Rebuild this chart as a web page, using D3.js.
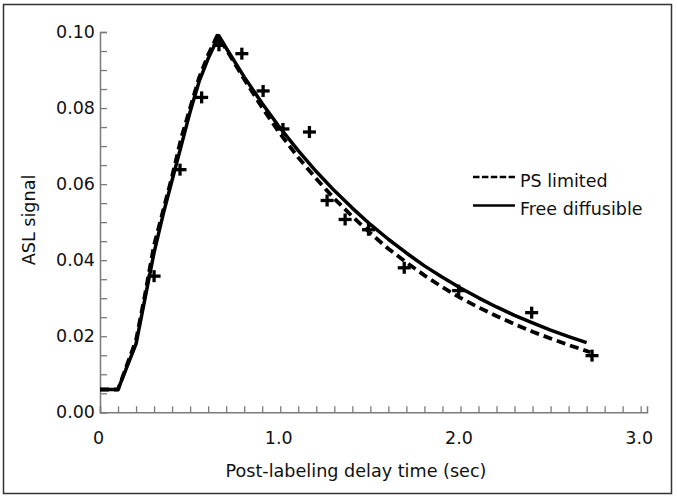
<!DOCTYPE html>
<html>
<head>
<meta charset="utf-8">
<script src="https://cdn.jsdelivr.net/npm/d3@7"></script>
<style>
  html, body { margin: 0; padding: 0; background: #fff; }
  svg { display: block; }
  text { font-family: "DejaVu Sans", sans-serif; fill: #111; }
</style>
</head>
<body>
<svg id="chart" width="677" height="498"></svg>
<script>
// ---- data ----
const freeT = [0, 0.1, 0.2, 0.25, 0.3, 0.35, 0.4, 0.45, 0.5, 0.55, 0.6, 0.66, 0.7, 0.8, 0.9, 1.0, 1.1, 1.2, 1.3, 1.4, 1.5, 1.6, 1.7, 1.8, 1.9, 2.0, 2.1, 2.2, 2.3, 2.4, 2.5, 2.6, 2.7];
const freeV = [0.006, 0.006, 0.018, 0.030, 0.042, 0.052, 0.061, 0.070, 0.079, 0.087, 0.093, 0.099, 0.0958, 0.0882, 0.0812, 0.0747, 0.0688, 0.0633, 0.0583, 0.0537, 0.0494, 0.0455, 0.0419, 0.0385, 0.0355, 0.0327, 0.0301, 0.0277, 0.0255, 0.0235, 0.0216, 0.0199, 0.0183];

const psT = [0, 0.1, 0.2, 0.25, 0.3, 0.35, 0.4, 0.45, 0.5, 0.55, 0.6, 0.65, 0.7, 0.8, 0.9, 1.0, 1.1, 1.2, 1.3, 1.4, 1.5, 1.6, 1.7, 1.8, 1.9, 2.0, 2.1, 2.2, 2.3, 2.4, 2.5, 2.6, 2.72];
const psV = [0.006, 0.006, 0.019, 0.031, 0.044, 0.053, 0.062, 0.072, 0.080, 0.088, 0.094, 0.099, 0.0955, 0.0876, 0.0801, 0.0732, 0.0670, 0.0614, 0.0562, 0.0515, 0.0471, 0.0430, 0.0394, 0.0360, 0.0329, 0.0301, 0.0276, 0.0253, 0.0232, 0.0212, 0.0194, 0.0177, 0.0158];

const measT = [0.30, 0.444, 0.564, 0.66, 0.787, 0.905, 1.015, 1.162, 1.26, 1.36, 1.49, 1.688, 1.99, 2.395, 2.73];
const measV = [0.0358, 0.0638, 0.0828, 0.0965, 0.0943, 0.0845, 0.0745, 0.0737, 0.0557, 0.0507, 0.0480, 0.0380, 0.0320, 0.0262, 0.0149];

const xTickValues = [0, 1, 2, 3];
const xTickLabels = ["0", "1.0", "2.0", "3.0"];
const yTickValues = [0, 0.02, 0.04, 0.06, 0.08, 0.10];
const yTickLabels = ["0.00", "0.02", "0.04", "0.06", "0.08", "0.10"];
const seriesNames = ["PS limited", "Free diffusible"];
const xTitle = "Post-labeling delay time (sec)";
const yTitle = "ASL signal";

// ---- drawing ----
const svg = d3.select("#chart");
const axisColor = "#7a7a7a";
const fontFam = "'DejaVu Sans', sans-serif";

svg.append("rect")
  .attr("x", 3.5).attr("y", 4.5).attr("width", 668).attr("height", 489)
  .attr("fill", "none").attr("stroke", "#333").attr("stroke-width", 1.5);

const x = d3.scaleLinear().domain([0, 3.035]).range([100, 647]);
const y = d3.scaleLinear().domain([0, 0.1]).range([412.3, 32]);

// minor ticks (inside)
const xMinor = d3.range(0, 31).map(i => i / 10);
const yMinor = d3.range(0, 21).map(i => i * 0.005);

const gx = svg.append("g").attr("transform", `translate(0,${y(0)})`)
  .call(d3.axisBottom(x).tickValues(xMinor).tickSize(-6).tickFormat(""));
const gy = svg.append("g").attr("transform", `translate(${x(0)},0)`)
  .call(d3.axisLeft(y).tickValues(yMinor).tickSize(-7).tickFormat(""));
[gx, gy].forEach(g => {
  g.select(".domain").attr("stroke", axisColor).attr("stroke-width", 1.5);
  g.selectAll(".tick line").attr("stroke", axisColor).attr("stroke-width", 1.3);
});

// tick labels
const gxl = svg.append("g").attr("transform", `translate(0,${y(0)})`)
  .call(d3.axisBottom(x).tickValues(xTickValues).tickSize(0).tickPadding(19)
    .tickFormat((d, i) => xTickLabels[i]));
const gyl = svg.append("g").attr("transform", `translate(${x(0)},0)`)
  .call(d3.axisLeft(y).tickValues(yTickValues).tickSize(0).tickPadding(5)
    .tickFormat((d, i) => yTickLabels[i]));
[gxl, gyl].forEach(g => {
  g.select(".domain").remove();
  g.selectAll("text").attr("font-size", 17.5).attr("font-family", fontFam).attr("fill", "#111");
});
gxl.selectAll(".tick").attr("transform", d => `translate(${x(d) - 1.5},0)`);

// titles
svg.append("text").attr("x", 356).attr("y", 477).attr("text-anchor", "middle")
  .attr("font-size", 17.6).text(xTitle);
svg.append("text").attr("transform", "translate(35,220) rotate(-90)")
  .attr("text-anchor", "middle").attr("font-size", 17.6).text(yTitle);

// curves
const line = d3.line().x(d => x(d[0])).y(d => y(d[1]));
const psData = psT.map((t, i) => [t, psV[i]]);
const freeData = freeT.map((t, i) => [t, freeV[i]]);

svg.append("path").datum(freeData).attr("d", line)
  .attr("fill", "none").attr("stroke", "#000").attr("stroke-width", 3.5)
  .attr("stroke-linejoin", "round");
svg.append("path").datum(psData).attr("d", line)
  .attr("fill", "none").attr("stroke", "#000").attr("stroke-width", 3.8)
  .attr("stroke-linejoin", "round").attr("stroke-dasharray", "9,5");

// measured points as "+"
const plus = svg.append("g").selectAll("g").data(measT.map((t, i) => [t, measV[i]]))
  .join("g").attr("transform", d => `translate(${x(d[0])},${y(d[1])})`);
plus.append("line").attr("x1", -6.5).attr("x2", 6.5).attr("y1", 0).attr("y2", 0)
  .attr("stroke", "#000").attr("stroke-width", 3.3);
plus.append("line").attr("x1", 0).attr("x2", 0).attr("y1", -6).attr("y2", 6)
  .attr("stroke", "#000").attr("stroke-width", 3.3);

// legend
const legend = svg.append("g");
const legY = [177, 205.5];
legend.append("line").attr("x1", 473).attr("x2", 515).attr("y1", legY[0]).attr("y2", legY[0])
  .attr("stroke", "#000").attr("stroke-width", 2.6).attr("stroke-dasharray", "6.5,2.4");
legend.append("line").attr("x1", 473).attr("x2", 515).attr("y1", legY[1]).attr("y2", legY[1])
  .attr("stroke", "#000").attr("stroke-width", 2.4);
seriesNames.forEach((n, i) => {
  legend.append("text").attr("x", 520).attr("y", legY[i] + 9.5).attr("font-size", 17.5).text(n);
});
</script>
</body>
</html>
